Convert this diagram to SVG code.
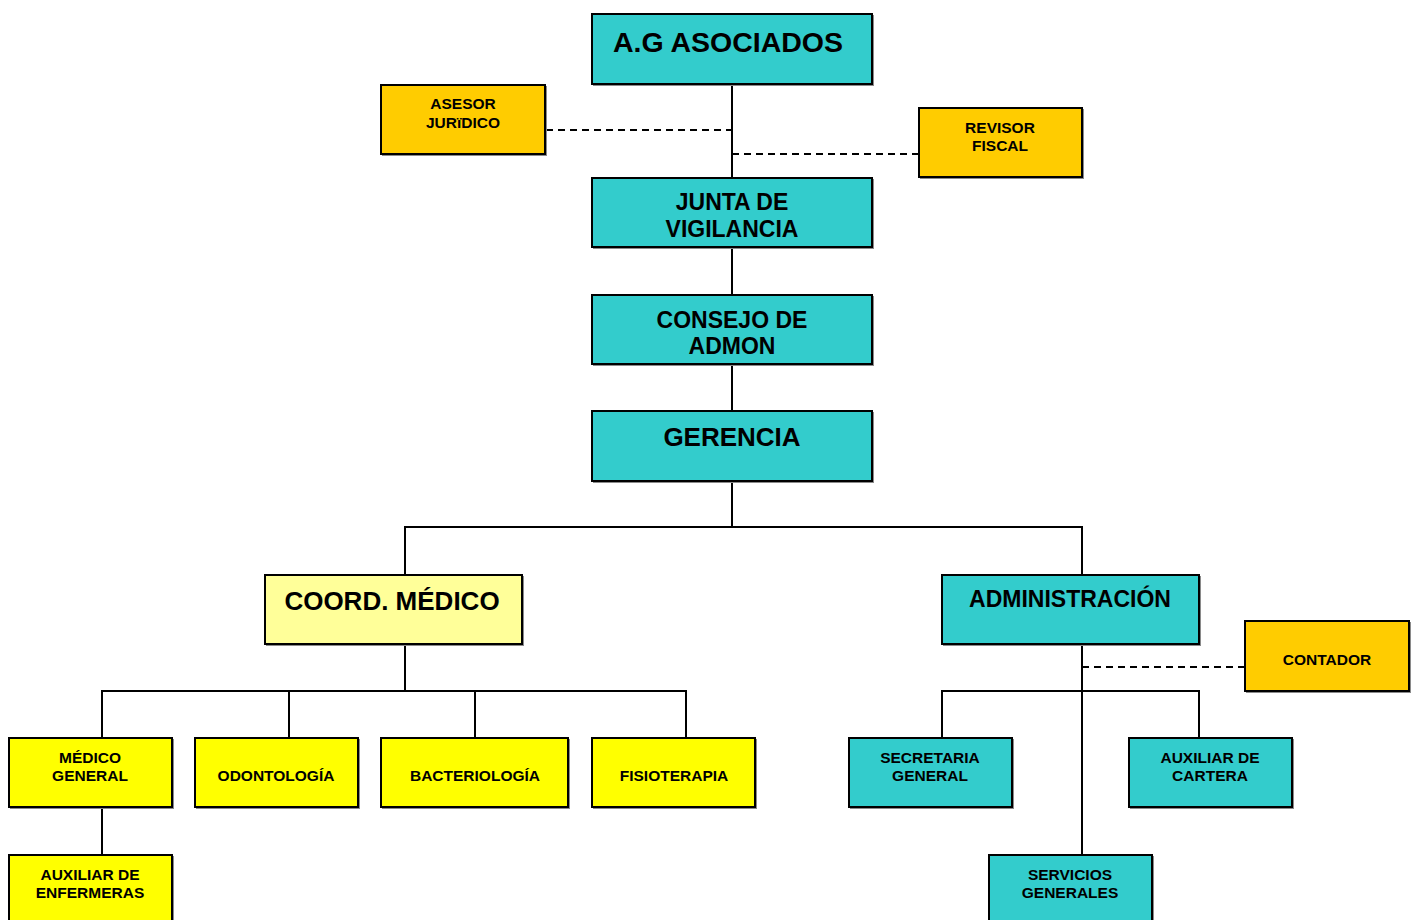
<svg xmlns="http://www.w3.org/2000/svg" width="1415" height="920" viewBox="0 0 1415 920">
  <style>
    .box { stroke: #000; stroke-width: 2; }
    .shadow { fill: #8a8a8a; }
    .teal { fill: #33CCCC; }
    .gold { fill: #FFCC00; }
    .yellow { fill: #FFFF00; }
    .pale { fill: #FFFF99; }
    text { font-family: "Liberation Sans", Arial, sans-serif; font-weight: bold; fill: #000; text-anchor: middle; }
    .xl { font-size: 28.5px; }
    .lg { font-size: 26px; }
    .md { font-size: 23px; }
    .sm { font-size: 15.5px; }
    .line { stroke: #000; stroke-width: 2; fill: none; }
    .dash { stroke: #000; stroke-width: 2; fill: none; stroke-dasharray: 7 5; }
  </style>

  <rect width="1415" height="920" fill="#ffffff"/>

  <!-- connectors -->
  <g id="connectors">
    <path class="line" d="M732 84 V527"/>
    <path class="line" d="M405 575 V527 H1082 V575"/>
    <path class="dash" d="M546 130 H732"/>
    <path class="dash" d="M732 154 H919"/>
    <path class="line" d="M405 644 V691"/>
    <path class="line" d="M102 738 V691 H686 V738"/>
    <path class="line" d="M289 691 V738"/>
    <path class="line" d="M475 691 V738"/>
    <path class="line" d="M102 807 V855"/>
    <path class="line" d="M1082 644 V855"/>
    <path class="line" d="M942 738 V691 H1199 V738"/>
    <path class="dash" d="M1082 667 H1245"/>
  </g>

  <g id="ag-asociados">
    <rect class="shadow" x="593" y="15" width="281" height="71"/>
    <rect class="box teal" x="592" y="14" width="280" height="70"/>
    <text class="xl" x="728" y="52">A.G ASOCIADOS</text>
  </g>

  <g id="asesor-juridico">
    <rect class="shadow" x="382" y="86" width="165" height="70"/>
    <rect class="box gold" x="381" y="85" width="164" height="69"/>
    <text class="sm" x="463" y="109">ASESOR</text>
    <text class="sm" x="463" y="128">JURïDICO</text>
  </g>

  <g id="revisor-fiscal">
    <rect class="shadow" x="920" y="109" width="164" height="70"/>
    <rect class="box gold" x="919" y="108" width="163" height="69"/>
    <text class="sm" x="1000" y="133">REVISOR</text>
    <text class="sm" x="1000" y="151">FISCAL</text>
  </g>

  <g id="junta-vigilancia">
    <rect class="shadow" x="593" y="179" width="281" height="70"/>
    <rect class="box teal" x="592" y="178" width="280" height="69"/>
    <text class="md" x="732" y="210">JUNTA DE</text>
    <text class="md" x="732" y="237">VIGILANCIA</text>
  </g>

  <g id="consejo-admon">
    <rect class="shadow" x="593" y="296" width="281" height="70"/>
    <rect class="box teal" x="592" y="295" width="280" height="69"/>
    <text class="md" x="732" y="328">CONSEJO DE</text>
    <text class="md" x="732" y="354">ADMON</text>
  </g>

  <g id="gerencia">
    <rect class="shadow" x="593" y="412" width="281" height="71"/>
    <rect class="box teal" x="592" y="411" width="280" height="70"/>
    <text class="lg" x="732" y="446">GERENCIA</text>
  </g>

  <g id="coord-medico">
    <rect class="shadow" x="266" y="576" width="258" height="70"/>
    <rect class="box pale" x="265" y="575" width="257" height="69"/>
    <text class="lg" x="392" y="610">COORD. MÉDICO</text>
  </g>

  <g id="administracion">
    <rect class="shadow" x="943" y="576" width="258" height="70"/>
    <rect class="box teal" x="942" y="575" width="257" height="69"/>
    <text class="md" x="1070" y="607">ADMINISTRACIÓN</text>
  </g>

  <g id="contador">
    <rect class="shadow" x="1246" y="622" width="165" height="71"/>
    <rect class="box gold" x="1245" y="621" width="164" height="70"/>
    <text class="sm" x="1327" y="665">CONTADOR</text>
  </g>

  <g id="medico-general">
    <rect class="shadow" x="10" y="739" width="164" height="70"/>
    <rect class="box yellow" x="9" y="738" width="163" height="69"/>
    <text class="sm" x="90" y="763">MÉDICO</text>
    <text class="sm" x="90" y="781">GENERAL</text>
  </g>

  <g id="odontologia">
    <rect class="shadow" x="196" y="739" width="164" height="70"/>
    <rect class="box yellow" x="195" y="738" width="163" height="69"/>
    <text class="sm" x="276" y="781">ODONTOLOGÍA</text>
  </g>

  <g id="bacteriologia">
    <rect class="shadow" x="382" y="739" width="188" height="70"/>
    <rect class="box yellow" x="381" y="738" width="187" height="69"/>
    <text class="sm" x="475" y="781">BACTERIOLOGÍA</text>
  </g>

  <g id="fisioterapia">
    <rect class="shadow" x="593" y="739" width="164" height="70"/>
    <rect class="box yellow" x="592" y="738" width="163" height="69"/>
    <text class="sm" x="674" y="781">FISIOTERAPIA</text>
  </g>

  <g id="auxiliar-enfermeras">
    <rect class="shadow" x="10" y="856" width="164" height="70"/>
    <rect class="box yellow" x="9" y="855" width="163" height="69"/>
    <text class="sm" x="90" y="880">AUXILIAR DE</text>
    <text class="sm" x="90" y="898">ENFERMERAS</text>
  </g>

  <g id="secretaria-general">
    <rect class="shadow" x="850" y="739" width="164" height="70"/>
    <rect class="box teal" x="849" y="738" width="163" height="69"/>
    <text class="sm" x="930" y="763">SECRETARIA</text>
    <text class="sm" x="930" y="781">GENERAL</text>
  </g>

  <g id="auxiliar-cartera">
    <rect class="shadow" x="1130" y="739" width="164" height="70"/>
    <rect class="box teal" x="1129" y="738" width="163" height="69"/>
    <text class="sm" x="1210" y="763">AUXILIAR DE</text>
    <text class="sm" x="1210" y="781">CARTERA</text>
  </g>

  <g id="servicios-generales">
    <rect class="shadow" x="990" y="856" width="164" height="70"/>
    <rect class="box teal" x="989" y="855" width="163" height="69"/>
    <text class="sm" x="1070" y="880">SERVICIOS</text>
    <text class="sm" x="1070" y="898">GENERALES</text>
  </g>
</svg>
